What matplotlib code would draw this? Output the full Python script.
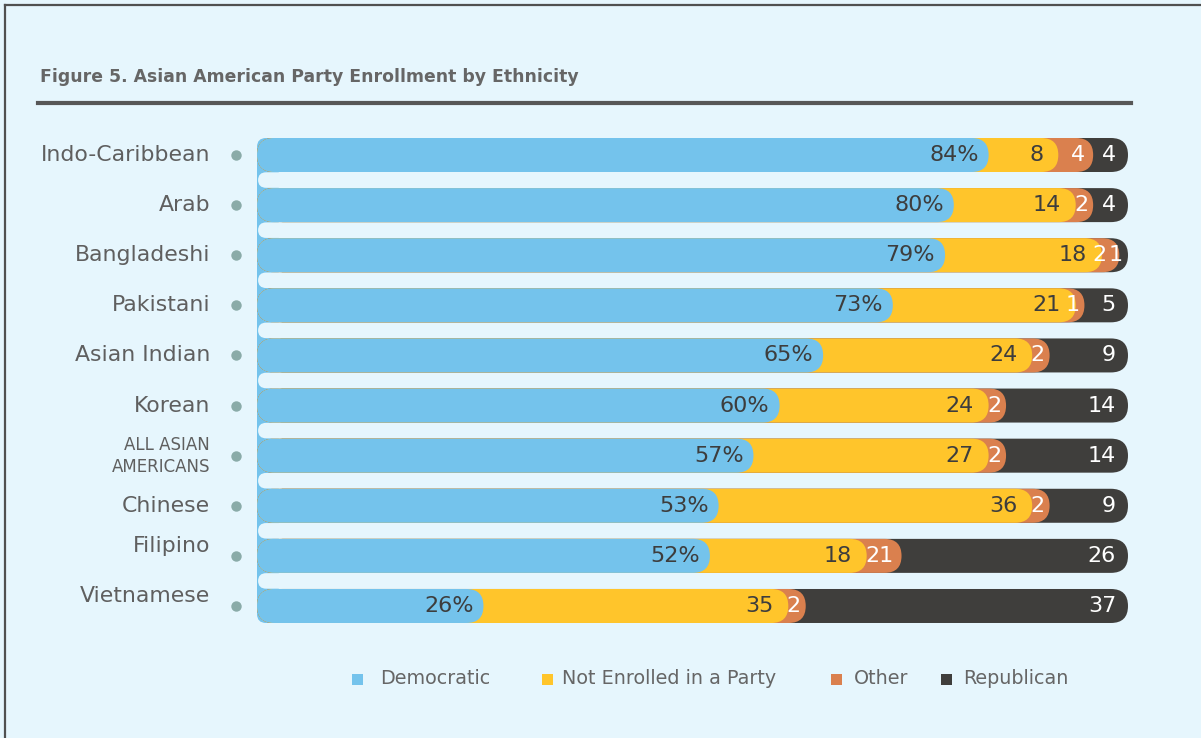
import numpy as np
import matplotlib.pyplot as plt
from matplotlib.patches import FancyBboxPatch, Rectangle
from matplotlib.lines import Line2D

# party enrollment by ethnicity, in percent
groups = ["Indo-Caribbean", "Arab", "Bangladeshi", "Pakistani", "Asian Indian",
          "Korean", "ALL ASIAN\nAMERICANS", "Chinese", "Filipino", "Vietnamese"]
democratic = [84, 80, 79, 73, 65, 60, 57, 53, 52, 26]
not_enrolled = [8, 14, 18, 21, 24, 24, 27, 36, 18, 35]
other = [4, 2, 2, 1, 2, 2, 2, 2, 4, 2]
republican = [4, 4, 1, 5, 9, 14, 14, 9, 26, 37]
other_labels = ["4", "2", "2", "1", "2", "2", "2", "2", "21", "2"]

series_names = ["Democratic", "Not Enrolled in a Party", "Other", "Republican"]
colors = ["#74C3EC", "#FFC52B", "#DA804E", "#3F3E3C"]
txt_colors = ["#3d3d3d", "#3d3d3d", "white", "white"]
label_pad = [10, 15, 8, 12]   # px between label and segment end

BG = "#E6F6FD"
GREY = "#5f5f5f"
W, H = 1201, 738

fig = plt.figure(figsize=(W / 100, H / 100), dpi=100, facecolor=BG)

def fx(x):
    return x / W

def fy(y):
    return 1 - y / H

# frame on top and left
fig.add_artist(Line2D([fx(4.5), fx(4.5)], [fy(4.5), 0], color="#505050", lw=1.6))
fig.add_artist(Line2D([fx(4.5), 1], [fy(4.5), fy(4.5)], color="#505050", lw=1.6))

# title and rule
fig.text(fx(40), fy(77), "Figure 5. Asian American Party Enrollment by Ethnicity",
         fontsize=12.4, weight="bold", color="#666666", va="center", ha="left")
fig.add_artist(Line2D([fx(38), fx(1131)], [fy(103), fy(103)], color="#575757", lw=3))

n = len(groups)
row_px = 50.11
top_px = 155 - row_px / 2
ax = fig.add_axes([fx(257), fy(top_px + n * row_px), (1128 - 257) / W, n * row_px / H])
ax.set_xlim(0, 100)
ax.set_ylim(-0.5, n - 0.5)
ax.axis("off")

px_x = (1128 - 257) / 100.0
px_y = row_px
bar_h = 34 / px_y


def pill(x0, x1, yc, h, r_px, color, z):
    rx = r_px / px_x
    ry = r_px / px_y
    p = FancyBboxPatch((x0, yc - h / 2), x1 - x0, h,
                       boxstyle=f"round,pad=0,rounding_size={rx}",
                       mutation_aspect=ry / rx, fc=color, ec="none", zorder=z)
    ax.add_patch(p)


ys = np.arange(n)[::-1]

# blue column joining the left ends of the bars
pill(0, 2.5, (ys.min() + ys.max()) / 2, ys.max() - ys.min() + bar_h, 9, colors[0], 1)

parts = np.array([democratic, not_enrolled, other, republican], dtype=float)
ends = np.cumsum(parts, axis=0)

value_texts = []
for i, y in enumerate(ys):
    for k in range(3, -1, -1):
        pill(0, ends[k, i], y, bar_h, 17, colors[k], 2)
    labels = [f"{democratic[i]}%", str(not_enrolled[i]), other_labels[i], str(republican[i])]
    row = []
    for k in range(4):
        pad = 5 if parts[k, i] <= 2 else label_pad[k]
        t = ax.annotate(labels[k], xy=(ends[k, i], y), xytext=(-pad, 0),
                        textcoords="offset pixels", ha="right", va="center",
                        fontsize=16, color=txt_colors[k], zorder=5)
        row.append(t)
    value_texts.append(row)

# push labels left where a narrow segment crowds them
fig.canvas.draw()
rend = fig.canvas.get_renderer()
for row in value_texts:
    limit = None
    for t in row[::-1]:
        bb = t.get_window_extent(rend)
        x0 = bb.x0
        if limit is not None and bb.x1 > limit - 2:
            shift = bb.x1 - (limit - 2)
            ox, oy = t.xyann
            t.xyann = (ox - shift, oy)
            x0 -= shift
        limit = x0

# light gaps between rows, rounded at the left
gap_px = row_px - 34
for y in ys[:-1]:
    pill(0.12, 3.5, y - 0.5, (gap_px - 0.6) / px_y, gap_px / 2, BG, 3)

# category labels and dots
for i, y in enumerate(ys):
    dy = 10 if groups[i] in ("Filipino", "Vietnamese") else 0
    if "\n" in groups[i]:
        ax.annotate(groups[i], xy=(0, y), xytext=(-47, 0), textcoords="offset pixels",
                    ha="right", va="center", fontsize=12, color=GREY,
                    linespacing=1.3, annotation_clip=False)
    else:
        ax.annotate(groups[i], xy=(0, y), xytext=(-47, dy), textcoords="offset pixels",
                    ha="right", va="center", fontsize=15.8, color=GREY,
                    annotation_clip=False)
ax.plot(np.full(n, -21 / px_x), ys, "o", ms=7.5, color="#8AABA8", mec="none",
        clip_on=False)

# legend
leg_sq = [357, 547, 836, 946]
leg_tx = [380, 562, 854, 963]
for name, c, sx, tx in zip(series_names, colors, leg_sq, leg_tx):
    fig.add_artist(Rectangle((fx(sx - 5.5), fy(684.5)), 11 / W, 11 / H, fc=c, ec="none"))
    fig.text(fx(tx), fy(679), name, fontsize=13.8, color="#666666", va="center", ha="left")

fig.savefig("out.png", dpi=100, facecolor=BG)
